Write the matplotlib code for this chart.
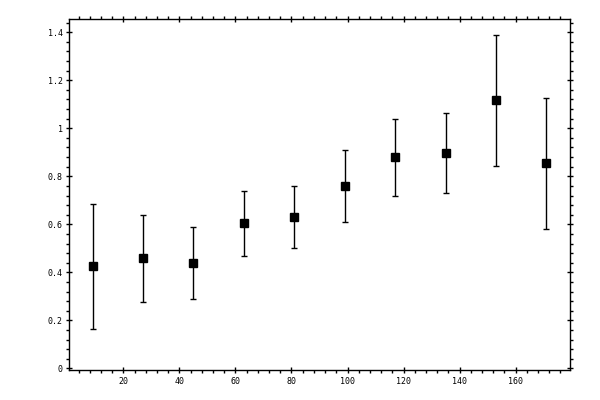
import matplotlib
matplotlib.use('Agg')
import matplotlib.pyplot as plt
from matplotlib.ticker import MultipleLocator, FuncFormatter

# data
x = [9, 27, 45, 63, 81, 99, 117, 135, 153, 171]
y = [0.425, 0.458, 0.439, 0.604, 0.630, 0.758, 0.879, 0.896, 1.117, 0.854]
err = [0.259, 0.181, 0.151, 0.134, 0.128, 0.150, 0.161, 0.166, 0.273, 0.272]

fig = plt.figure(figsize=(6, 4), dpi=100)
ax = fig.add_axes([0.115, 0.074, 0.835, 0.878])

ax.errorbar(x, y, yerr=err, fmt='s', color='black', ms=5.5, elinewidth=1,
            capsize=2.5, capthick=1)

ax.set_xlim(0.6, 179.4)
ax.set_ylim(-0.008, 1.454)

ax.xaxis.set_major_locator(MultipleLocator(20))
ax.xaxis.set_minor_locator(MultipleLocator(4))
ax.yaxis.set_major_locator(MultipleLocator(0.2))
ax.yaxis.set_minor_locator(MultipleLocator(0.04))
ax.yaxis.set_major_formatter(FuncFormatter(lambda v, p: f'{v:g}'))

ax.tick_params(which='major', direction='inout', length=5, width=1,
               top=True, right=True, labelsize=6, pad=2)
ax.tick_params(which='minor', direction='out', length=2, width=1,
               top=True, right=True)
for lab in ax.get_xticklabels() + ax.get_yticklabels():
    lab.set_family('DejaVu Sans Mono')
for s in ax.spines.values():
    s.set_linewidth(1)

fig.savefig('out.png', dpi=100)
